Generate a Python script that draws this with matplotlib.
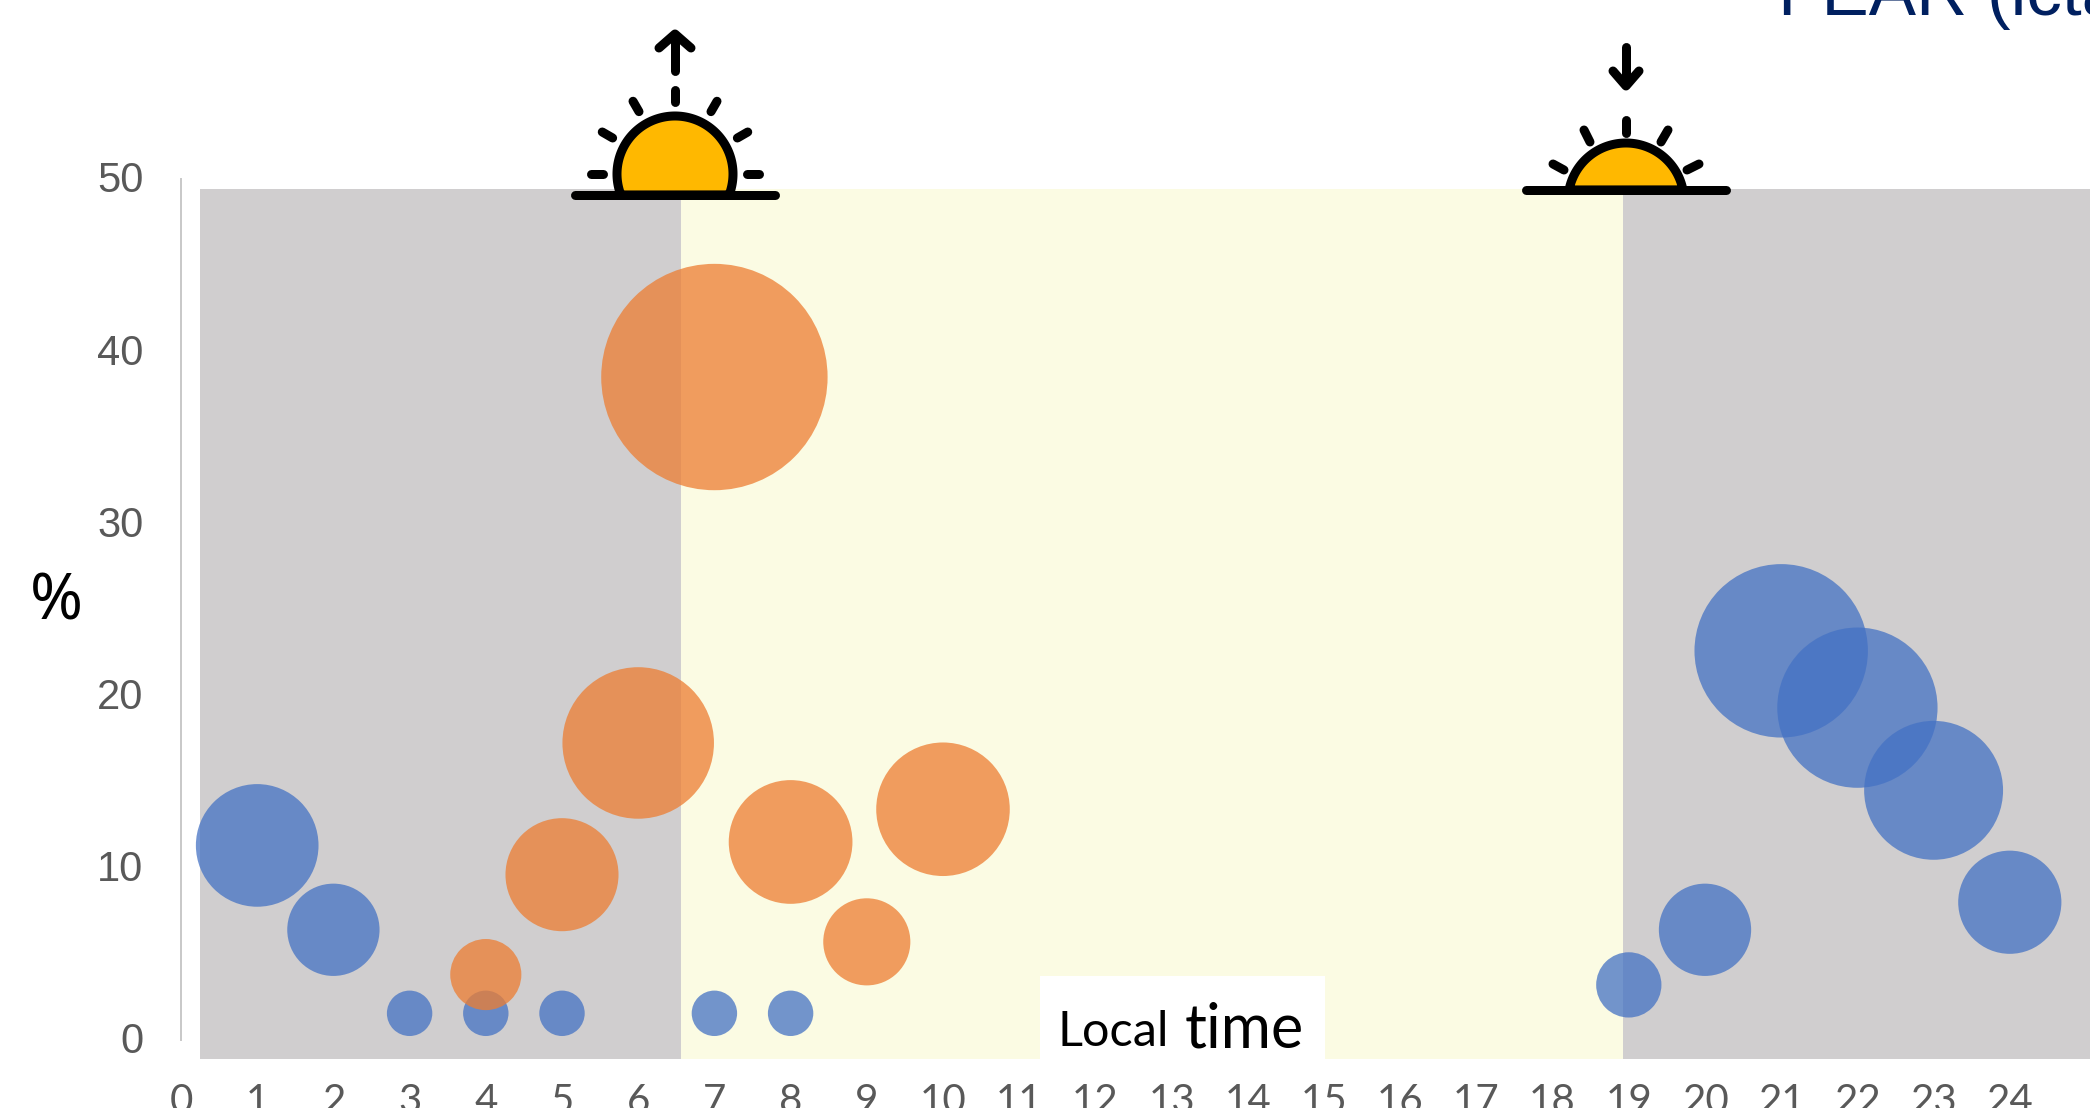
import matplotlib
matplotlib.use("Agg")
import numpy as np
import matplotlib.pyplot as plt
from matplotlib.patches import Polygon, Rectangle
from matplotlib.transforms import ScaledTranslation

# --- data ---
hours_ticks = list(range(0, 25))
y_ticks = [0, 10, 20, 30, 40, 50]
blue_hours = [1, 2, 3, 4, 5, 7, 8, 19, 20, 21, 22, 23, 24]
blue_values = [11.3, 6.4, 1.55, 1.55, 1.55, 1.55, 1.55, 3.2, 6.4, 22.6, 19.3, 14.5, 8.0]
orange_hours = [4, 5, 6, 7, 8, 9, 10]
orange_values = [3.8, 9.6, 17.25, 38.5, 11.5, 5.7, 13.4]
sunrise_hour = 6.56
sunset_hour = 18.92
title_text = "FEAR (ictal)"

W, H = 2090, 1108
PX_LEFT, PX_RIGHT, PX_TOP, PX_BOTTOM = 181, 2090, 179, 1040
X_UNIT = 76.2
BUBBLE_SCALE = 690

fig = plt.figure(figsize=(W / 100, H / 100), dpi=100, facecolor="white")
ax = fig.add_axes([PX_LEFT / W, 1 - PX_BOTTOM / H, (PX_RIGHT - PX_LEFT) / W, (PX_BOTTOM - PX_TOP) / H])
xmax = (PX_RIGHT - PX_LEFT) / X_UNIT
ax.set_xlim(0, xmax)
ax.set_ylim(0, 50)
ax.patch.set_alpha(0)

# background bands
band_top, band_bottom = 49.42, -1.1
band_left = 0.25
GRAY, CREAM = "#D0CECF", "#FBFBE3"
for x0, x1, c in [(band_left, sunrise_hour, GRAY), (sunrise_hour, sunset_hour, CREAM), (sunset_hour, xmax, GRAY)]:
    ax.add_patch(Rectangle((x0, band_bottom), x1 - x0, band_top - band_bottom, facecolor=c,
                           edgecolor="none", clip_on=False, zorder=1))

ax.scatter(blue_hours, blue_values, s=BUBBLE_SCALE * np.array(blue_values), color="#4472C4",
           alpha=0.75, linewidths=0, clip_on=False, zorder=3)
ax.scatter(orange_hours, orange_values, s=BUBBLE_SCALE * np.array(orange_values), color="#ED7D31",
           alpha=0.75, linewidths=0, clip_on=False, zorder=4)

for s in ("top", "right", "bottom"):
    ax.spines[s].set_visible(False)
ax.spines["left"].set_color("#C8C8C8")
ax.spines["left"].set_linewidth(1.4)

ax.set_xticks(hours_ticks)
ax.set_xticklabels([str(h) for h in hours_ticks], family="Lato", fontsize=29, color="#595959")
ax.set_yticks(y_ticks)
ax.set_yticklabels([str(v) for v in y_ticks], family="Liberation Sans", fontsize=30, color="#595959")
ax.tick_params(axis="x", length=0, pad=31)
ax.tick_params(axis="y", length=0, pad=27)
shift = ScaledTranslation(0, 1.5 / 72, fig.dpi_scale_trans)
for lbl in ax.get_yticklabels():
    lbl.set_transform(lbl.get_transform() + shift)

# overlay in pixel coordinates: icons, title, annotation
ov = fig.add_axes([0, 0, 1, 1])
ov.set_xlim(0, W)
ov.set_ylim(H, 0)
ov.axis("off")
ov.patch.set_alpha(0)


def stroke(xs, ys, lw_px=9):
    ov.plot(xs, ys, color="black", lw=lw_px * 0.72, solid_capstyle="round", solid_joinstyle="round", zorder=6)


def dome(cx, cy, r, bar_y):
    t = np.linspace(0, 2 * np.pi, 3000)
    x, y = cx + r * np.cos(t), cy - r * np.sin(t)
    keep = y <= bar_y
    pts = np.column_stack([x[keep], y[keep]])
    pts = pts[np.argsort(np.arctan2(pts[:, 1] - cy, pts[:, 0] - cx))]
    ov.add_patch(Polygon(pts, closed=True, facecolor="#FFB800", edgecolor="black", lw=9 * 0.72, zorder=5))


# sunrise icon
cx, cy, bar = 675, 174, 195
dome(cx, cy, 58, bar)
for a in (0, 30, 60, 90, 120, 150, 180):
    r0, r1 = 72, 84
    ca, sa = np.cos(np.radians(a)), np.sin(np.radians(a))
    stroke([cx + r0 * ca, cx + r1 * ca], [cy - r0 * sa, cy - r1 * sa])
stroke([575, 775], [bar, bar])
stroke([675, 675], [71, 35])
stroke([659, 675, 691], [48, 34, 48])

# sunset icon
cx, bar = 1626, 190
dome(cx, 201, 58, bar)
stroke([1626, 1626], [120, 133])
stroke([1584, 1590], [130, 142])
stroke([1668, 1661], [130, 142])
stroke([1553, 1564], [164, 170])
stroke([1699, 1687], [164, 170])
stroke([1526, 1726], [bar, bar])
stroke([1626, 1626], [47, 84])
stroke([1613, 1626, 1639], [71, 86, 71])

# title clipped by the figure edge
ov.text(1778, 15, title_text, family="Liberation Sans", fontsize=51, color="#002060",
        ha="left", va="baseline", clip_on=False)

# axis titles
ov.text(56, 603, "%", family="Noto Sans", fontsize=46, color="black", ha="center", va="center")
ov.add_patch(Rectangle((1040, 976), 285, 83, facecolor="white", edgecolor="none", zorder=2))
ov.text(1057, 1046, "Local", family="Lato", fontsize=35, color="black", ha="left", va="baseline", zorder=3)
ov.text(1185, 1047, "time", family="Lato", fontsize=44, color="black", ha="left", va="baseline", zorder=3)

fig.savefig("out.png", dpi=100)
